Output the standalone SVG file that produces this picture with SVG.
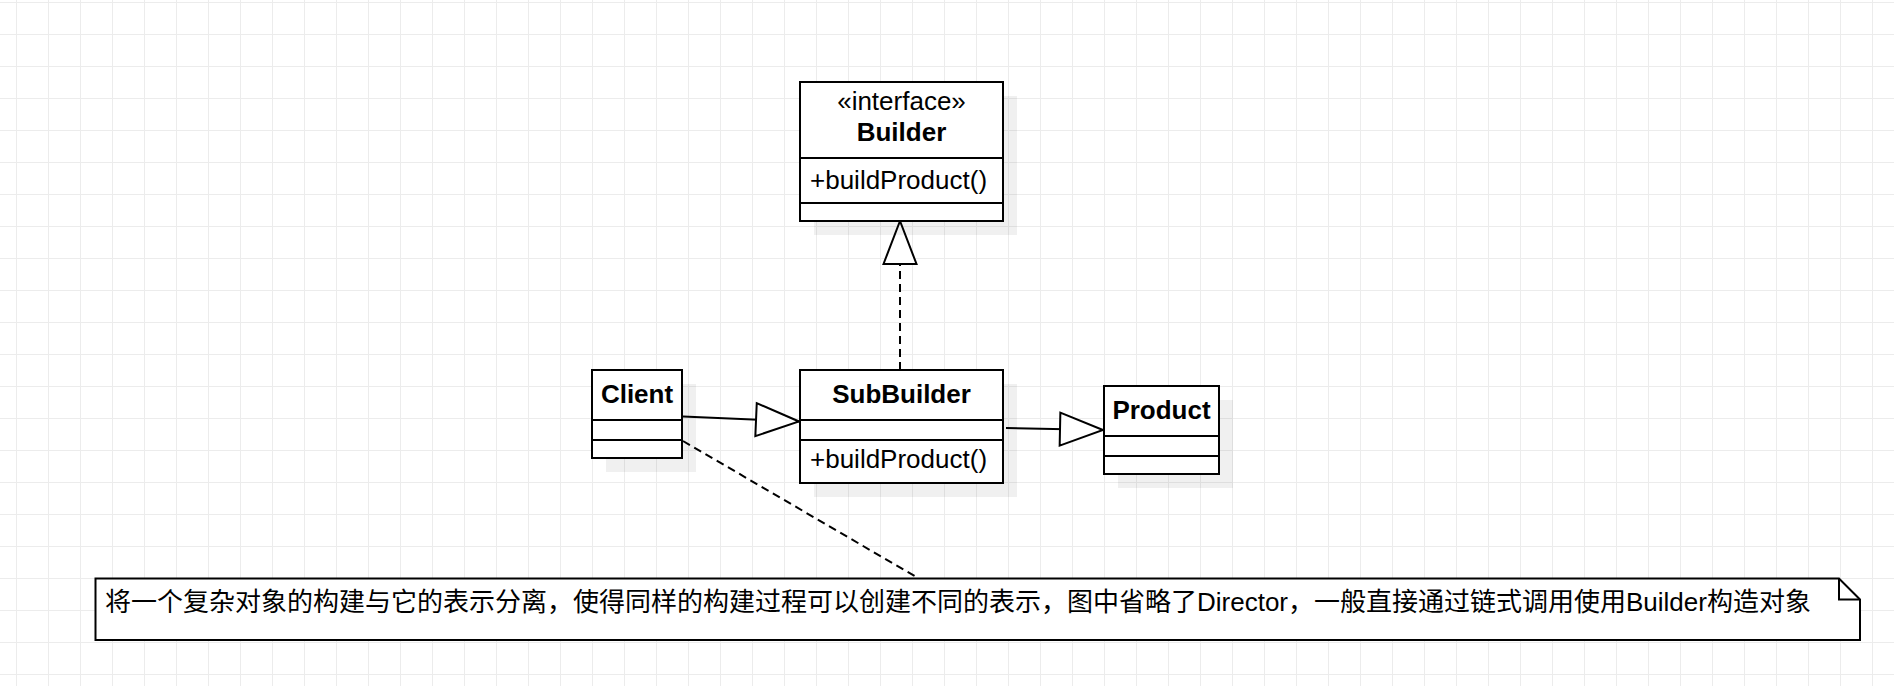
<svg xmlns="http://www.w3.org/2000/svg" width="1894" height="686" viewBox="0 0 1894 686">
<style>
.box{fill:#fff;stroke:#000;stroke-width:2}
.sep{stroke:#000;stroke-width:2}
.shadow{fill:#000;fill-opacity:0.06}
.t{font-family:"Liberation Sans",Arial,"Noto Sans CJK SC",sans-serif;font-size:26px;fill:#000}
.b{font-weight:bold}
.c{text-anchor:middle}
.line{fill:none;stroke:#000;stroke-width:2}
.dash{stroke-dasharray:8 5}
</style>
<defs>
<pattern id="grid" width="32" height="32" patternUnits="userSpaceOnUse" x="16" y="2">
<rect x="0" y="0" width="32" height="1" fill="#ececec"/>
<rect x="0" y="0" width="1" height="32" fill="#ececec"/>
</pattern>
<marker id="tri" markerUnits="userSpaceOnUse" markerWidth="46" markerHeight="40" refX="43" refY="20" orient="auto" overflow="visible">
<path d="M0,3.5 L43,20 L0,36.5 Z" fill="#fff" stroke="#000" stroke-width="2" stroke-dasharray="none"/>
</marker>
</defs>
<rect width="1894" height="686" fill="#fff"/>
<rect width="1894" height="686" fill="url(#grid)"/>

<g id="connectors">
<path class="line dash" d="M900,370 L900,221" marker-end="url(#tri)"/>
<path class="line" d="M683,416.5 L799,421.5" marker-end="url(#tri)"/>
<path class="line" d="M1006,428 L1103,430" marker-end="url(#tri)"/>
<path class="line dash" d="M683,441 L918,578"/>
</g>

<g id="builder">
<rect class="shadow" x="814" y="96" width="203" height="139"/>
<rect class="box" x="800" y="82" width="203" height="139"/>
<line class="sep" x1="800" y1="158" x2="1003" y2="158"/>
<line class="sep" x1="800" y1="203" x2="1003" y2="203"/>
<text class="t c" x="901.5" y="110">«interface»</text>
<text class="t b c" x="901.5" y="141">Builder</text>
<text class="t" x="810" y="189">+buildProduct()</text>
</g>

<g id="client">
<rect class="shadow" x="606" y="384" width="90" height="88"/>
<rect class="box" x="592" y="370" width="90" height="88"/>
<line class="sep" x1="592" y1="420" x2="682" y2="420"/>
<line class="sep" x1="592" y1="440" x2="682" y2="440"/>
<text class="t b c" x="637" y="403">Client</text>
</g>

<g id="subbuilder">
<rect class="shadow" x="814" y="384" width="203" height="113"/>
<rect class="box" x="800" y="370" width="203" height="113"/>
<line class="sep" x1="800" y1="420" x2="1003" y2="420"/>
<line class="sep" x1="800" y1="440" x2="1003" y2="440"/>
<text class="t b c" x="901.5" y="403">SubBuilder</text>
<text class="t" x="810" y="468">+buildProduct()</text>
</g>

<g id="product">
<rect class="shadow" x="1118" y="400" width="115" height="88"/>
<rect class="box" x="1104" y="386" width="115" height="88"/>
<line class="sep" x1="1104" y1="436" x2="1219" y2="436"/>
<line class="sep" x1="1104" y1="456" x2="1219" y2="456"/>
<text class="t b c" x="1161.5" y="419">Product</text>
</g>

<g id="note">
<path class="box" d="M95.5,578.5 H1839 L1860,599.5 V640 H95.5 Z"/>
<path class="line" d="M1839,578.5 V599.5 H1860"/>
<text class="t" x="105" y="611">将一个复杂对象的构建与它的表示分离，使得同样的构建过程可以创建不同的表示，图中省略了Director，一般直接通过链式调用使用Builder构造对象</text>
</g>
</svg>
